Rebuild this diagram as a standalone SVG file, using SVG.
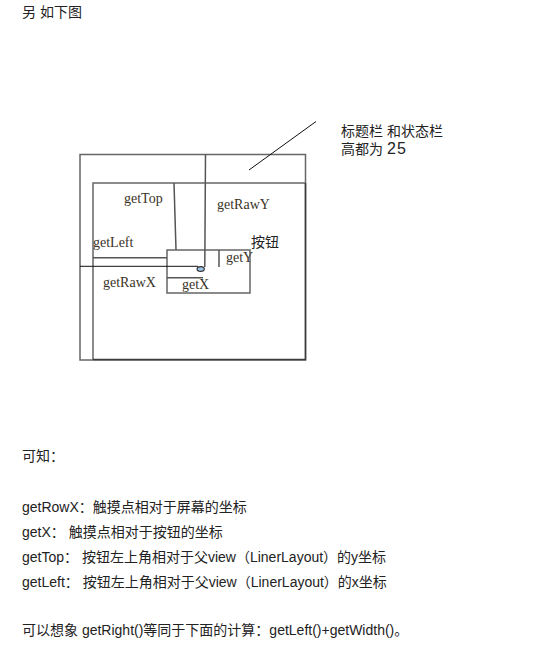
<svg xmlns="http://www.w3.org/2000/svg" width="547" height="655" viewBox="0 0 547 655">
<style>
.box{fill:none;stroke:#666;stroke-width:1.5}
.dark{fill:none;stroke:#3a3a3a;stroke-width:1.5}
.ln{stroke:#555;stroke-width:1.5;fill:none}
.thin{stroke:#111;stroke-width:1;fill:none}
.lbl{font-family:"Liberation Serif",serif;font-size:14px;fill:#3a3326}
.cn{font-family:"Liberation Sans","Noto Sans CJK SC",sans-serif;font-size:14px;fill:#222}
</style>
<rect width="547" height="655" fill="#fff"/>
<text class="cn" x="22" y="17" font-size="13" fill="#000">另 如下图</text>

<g id="screen">
<rect class="box" x="80" y="154.5" width="225.5" height="205.5"/>
</g>
<g id="layout">
<polyline class="box" points="93,360 93,183 305.5,183"/>
<polyline class="dark" points="305.5,183 305.5,359.5 93,359.5"/>
</g>
<g id="button">
<rect class="box" x="167" y="250" width="83" height="43"/>
<text class="cn" x="251" y="247">按钮</text>
</g>
<g id="touch">
<ellipse cx="200.7" cy="269" rx="3.6" ry="2.4" fill="#9cc2e6" stroke="#333" stroke-width="1.2"/>
</g>

<g id="connectors">
<line class="thin" x1="249" y1="170" x2="316" y2="121.5"/>
<line class="ln" x1="205.5" y1="154.5" x2="204.8" y2="267"/>
<line class="ln" x1="174" y1="183" x2="176" y2="250"/>
<line class="ln" x1="93" y1="257.7" x2="167" y2="257.7"/>
<line class="thin" x1="80" y1="266.3" x2="198" y2="266.3" stroke-width="1.3"/>
<line class="ln" x1="167" y1="277.7" x2="203" y2="277.7"/>
<line class="ln" x1="219" y1="250" x2="219" y2="267"/>
</g>

<g id="labels">
<text class="lbl" x="124" y="203">getTop</text>
<text class="lbl" x="217" y="209">getRawY</text>
<text class="lbl" x="93" y="247">getLeft</text>
<text class="lbl" x="226" y="261.5">getY</text>
<text class="lbl" x="103" y="286.5">getRawX</text>
<text class="lbl" x="182" y="289">getX</text>
</g>

<g id="note">
<text class="cn" x="341" y="136" fill="#333">标题栏 和状态栏</text>
<text class="cn" x="341" y="153.5" fill="#333">高都为 <tspan font-size="16" letter-spacing="1.2">25</tspan></text>
</g>

<g id="body">
<text class="cn" x="22" y="461">可知：</text>
<text class="cn" x="22" y="512">getRowX：触摸点相对于屏幕的坐标</text>
<text class="cn" x="22" y="537">getX： 触摸点相对于按钮的坐标</text>
<text class="cn" x="22" y="562">getTop： 按钮左上角相对于父view（LinerLayout）的y坐标</text>
<text class="cn" x="22" y="587">getLeft： 按钮左上角相对于父view（LinerLayout）的x坐标</text>
<text class="cn" x="22" y="635">可以想象 getRight()等同于下面的计算：getLeft()+getWidth()。</text>
</g>
</svg>
